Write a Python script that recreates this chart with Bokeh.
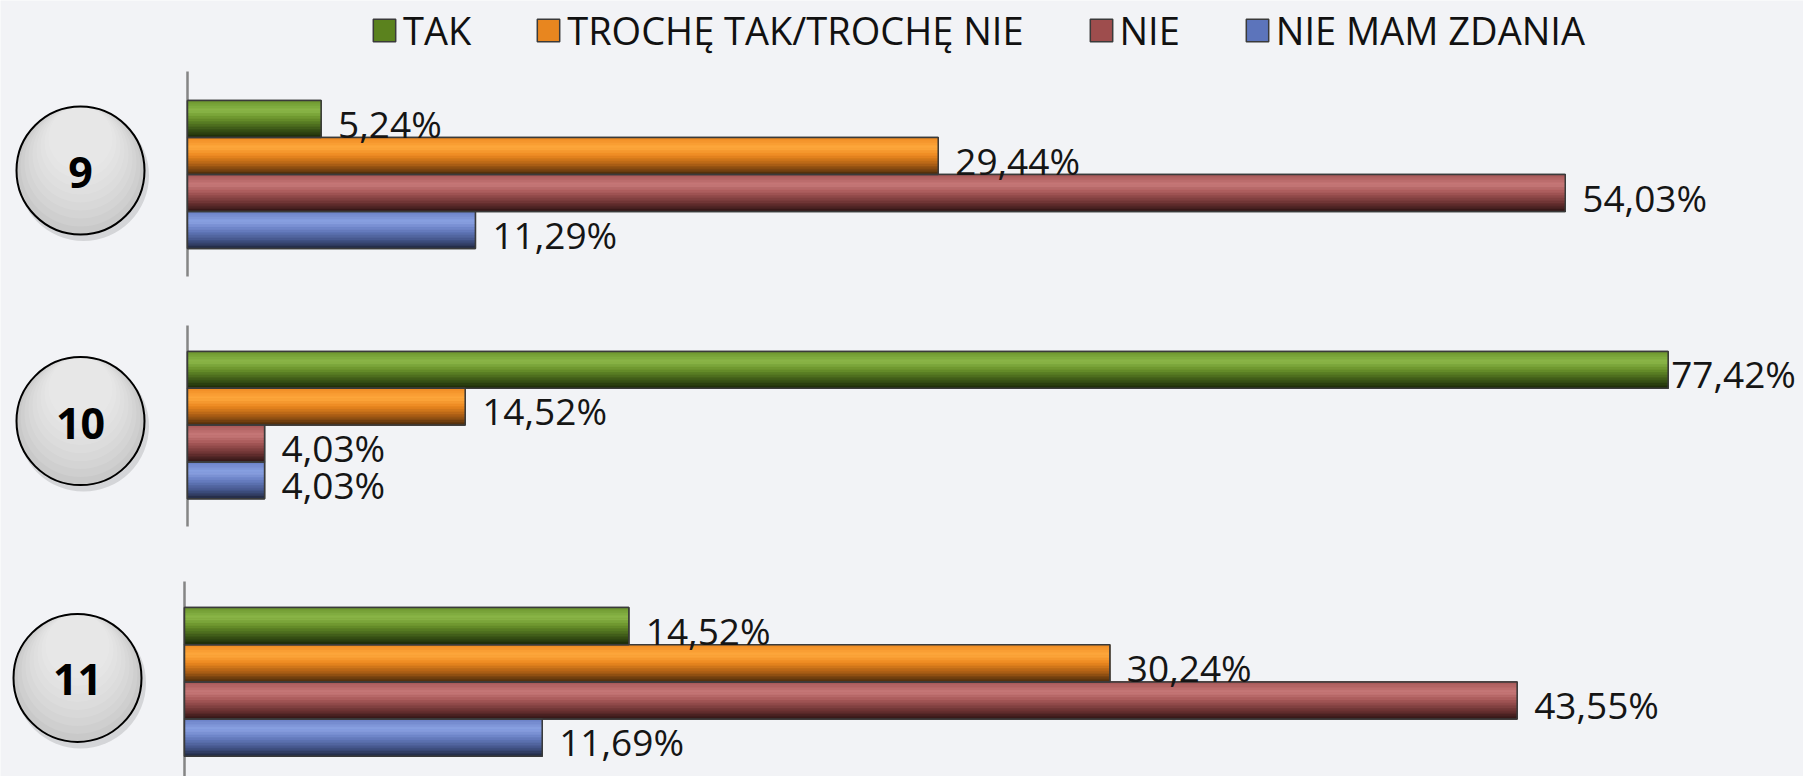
from bokeh.plotting import figure
from bokeh.models import Range1d, Legend, LegendItem, ColumnDataSource
from bokeh.embed import file_html
from bokeh.resources import INLINE
from bokeh.core.properties import value

# ---------------- data ----------------
questions = ["9", "10", "11"]
series = ["TAK", "TROCHĘ TAK/TROCHĘ NIE", "NIE", "NIE MAM ZDANIA"]
tak = [5.24, 77.42, 14.52]
troche = [29.44, 14.52, 30.24]
nie = [54.03, 4.03, 43.55]
brak = [11.29, 4.03, 11.69]
axis_max = [60, 80, 50]          # value-axis maximum of each panel

values = [tak, troche, nie, brak]

# ---------------- styles ----------------
flat_colors = ["#5b821e", "#e8861f", "#9e4d4d", "#5c74bb"]
grad_keys = [
    [(0.0, "#6c962e"), (0.28, "#8cb84a"), (0.5, "#6a922c"), (0.78, "#3c5818"), (1.0, "#1a2808")],
    [(0.0, "#ee8a22"), (0.28, "#ffa93e"), (0.5, "#ec8820"), (0.78, "#a05814"), (1.0, "#482a0c")],
    [(0.0, "#a65656"), (0.28, "#c87a7a"), (0.5, "#a65858"), (0.78, "#6a3232"), (1.0, "#2e1414")],
    [(0.0, "#6a80c6"), (0.28, "#8ba3e3"), (0.5, "#6a80c4"), (0.78, "#44568a"), (1.0, "#20283f")],
]
BG = "#f2f3f6"
FONT = "Open Sans"

W, H = 1803, 776
PLOT_W = 1530
axis_x = [187, 187, 184]
bar_top = [100, 351, 607]
bar_h = [37.0, 36.8, 37.2]
axis_span = [(71, 276), (325, 526), (581, 776)]
N_STRIPS = 14


def hex2rgb(h):
    h = h.lstrip("#")
    return tuple(int(h[i:i + 2], 16) for i in (0, 2, 4))


def interp(keys, t):
    for (t0, c0), (t1, c1) in zip(keys[:-1], keys[1:]):
        if t0 <= t <= t1:
            a = (t - t0) / (t1 - t0)
            r0, r1 = hex2rgb(c0), hex2rgb(c1)
            c = tuple(round(r0[i] + (r1[i] - r0[i]) * a) for i in range(3))
            return "#%02x%02x%02x" % c
    return keys[-1][1]


p = figure(width=W, height=H, x_range=Range1d(0, W), y_range=Range1d(H, 0),
           output_backend="svg", toolbar_location=None, min_border=0,
           x_axis_location=None, y_axis_location=None,
           background_fill_color=BG, border_fill_color=BG)
p.grid.visible = False
p.outline_line_color = None

legend_renderers = [None] * len(series)

for k, q in enumerate(questions):
    name = f"p{k}"
    s = PLOT_W / axis_max[k]
    ax = axis_x[k]
    p.extra_x_ranges[name] = Range1d(-ax / s, (W - ax) / s)
    bh = bar_h[k]

    # axis line
    p.segment(x0=[ax], y0=[axis_span[k][0]], x1=[ax], y1=[axis_span[k][1]],
              line_color="#858585", line_width=2.5)

    ys = [bar_top[k] + (j + 0.5) * bh for j in range(len(series))]
    vals = [values[j][k] for j in range(len(series))]

    # flat base bars (also the legend glyphs)
    for j in range(len(series)):
        r = p.hbar(y=[ys[j]], height=bh, left=0, right=[vals[j]], x_range_name=name,
                   fill_color=flat_colors[j], line_color="#3a3a3a", line_width=1.5)
        if k == 0:
            legend_renderers[j] = r

    # gradient strips
    sy, sh, sr, sc = [], [], [], []
    for j in range(len(series)):
        for i in range(N_STRIPS):
            t = (i + 0.5) / N_STRIPS
            sy.append(bar_top[k] + j * bh + (i + 0.5) * bh / N_STRIPS)
            sh.append(bh / N_STRIPS)
            sr.append(vals[j])
            sc.append(interp(grad_keys[j], t))
    src = ColumnDataSource(dict(y=sy, h=sh, right=sr, c=sc))
    p.hbar(y="y", height="h", left=0, right="right", source=src, x_range_name=name,
           fill_color="c", line_color="c", line_width=0.6)

    # outlines
    p.hbar(y=ys, height=bh, left=0, right=vals, x_range_name=name,
           fill_alpha=0, line_color="#3a3a3a", line_width=1.5)

    # value labels
    texts = [f"{v:.2f}".replace(".", ",") + "%" for v in vals]
    offs = [17 if ax + v * s + 17 + 125 <= W else 3 for v in vals]
    lsrc = ColumnDataSource(dict(x=vals, y=ys, t=texts, o=offs))
    p.text(x="x", y="y", text="t", x_offset="o", y_offset=4, source=lsrc, x_range_name=name,
           text_font=value(FONT), text_font_size="37px", text_color="#151515",
           text_align="left", text_baseline="middle")

    # question circle (soft shadow, grey body, top-lit gradient, number)
    cx = ax - 107
    cy = bar_top[k] + 2 * bh - 4
    p.scatter(x=[cx + 3], y=[cy + 5], size=131, marker="circle",
              fill_color="#000000", fill_alpha=0.12, line_color=None)
    p.scatter(x=[cx], y=[cy], size=128, marker="circle",
              fill_color="#c9c9c9", line_color=None)
    for d in range(8, 72, 8):
        p.scatter(x=[cx], y=[cy - d / 2], size=128 - d, marker="circle",
                  fill_color="#ffffff", fill_alpha=0.11, line_color=None)
    p.scatter(x=[cx], y=[cy], size=128, marker="circle",
              fill_alpha=0, line_color="#000000", line_width=2)
    p.text(x=[cx], y=[cy + 2], text=[q], text_font=value(FONT), text_font_style="bold",
           text_font_size="43px", text_color="#000000",
           text_align="center", text_baseline="middle")

legend = Legend(items=[LegendItem(label=series[j], renderers=[legend_renderers[j]])
                       for j in range(len(series))],
                orientation="horizontal", location=(370, H - 56),
                label_text_font=FONT, label_text_font_size="38px", label_text_color="#111111",
                glyph_width=28, glyph_height=28, spacing=63, label_standoff=5,
                padding=0, margin=0, border_line_alpha=0, background_fill_alpha=0)
p.add_layout(legend)

open("out.html", "w").write(file_html(p, INLINE))
